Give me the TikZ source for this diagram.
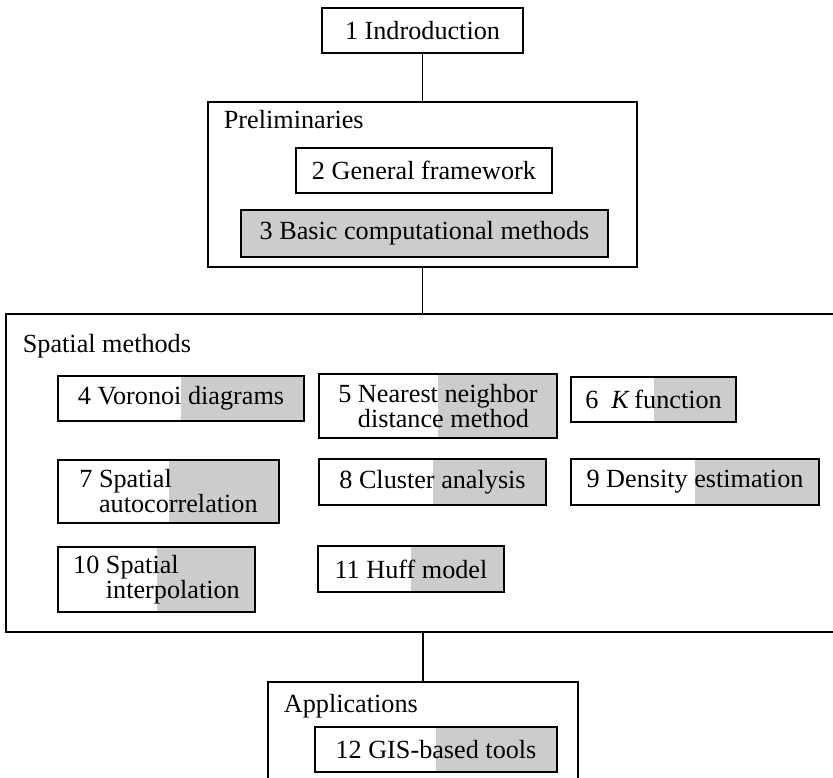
\documentclass[tikz,border=0pt]{standalone}
\usepackage{fontspec}
\setmainfont{Liberation Serif}
\usepackage{tikz}

\definecolor{boxgray}{HTML}{CCCCCC}

\begin{document}
\begin{tikzpicture}[x=0.5pt,y=-0.5pt,
    every node/.style={font=\fontsize{13.1pt}{12.5pt}\selectfont,inner sep=0,line width=0.9pt},
    groupbox/.style={draw,fill=white},
    grouplabel/.style={anchor=base west},
    plainbox/.style={draw,fill=white,align=left},
    graybox/.style={draw,fill=boxgray,align=left},
    halfbox/.style={draw,fill=white,align=left,
      path picture={\fill[boxgray] (path picture bounding box.south) rectangle (path picture bounding box.north east);}}]
        \useasboundingbox (0,0) rectangle (833,777);
        % containers
        \node[groupbox,minimum width=214.5pt,minimum height=82.5pt] (prelim) at (422.5,184.5) {};
        \node[groupbox,minimum width=422pt,minimum height=159pt] (spatial) at (428,473) {};
        \node[groupbox,minimum width=155pt,minimum height=59pt] (apps) at (423,741) {};
        \node[grouplabel] (prelimlabel) at (223,128) {Preliminaries};
        \node[grouplabel] (spatiallabel) at (22,352) {Spatial methods};
        \node[grouplabel] (appslabel) at (283,712) {Applications};
        % chapters
        \node[plainbox,minimum width=100.5pt,minimum height=22.5pt] (intro) at (422.5,30.5) {1 Indroduction};
        \node[plainbox,minimum width=128pt,minimum height=22.5pt] (framework) at (424,170.5) {2 General framework};
        \node[graybox,minimum width=183.5pt,minimum height=23.5pt] (basic) at (424.5,233.5) {3 Basic computational methods};
        \node[halfbox,minimum width=123pt,minimum height=22.5pt] (voronoi) at (181,398.5) {4 Voronoi diagrams};
        \node[halfbox,minimum width=119pt,minimum height=32pt] (nearest) at (438,406) {5 Nearest neighbor\\\phantom{5 }distance method};
        \node[halfbox,minimum width=82.5pt,minimum height=22.5pt] (kfunc) at (653.5,399.5) {6\enspace\textit{K}\,function};
        \node[halfbox,minimum width=110.5pt,minimum height=31.5pt] (autocorr) at (168.5,491.5) {7 Spatial\\\phantom{7 }autocorrelation};
        \node[halfbox,minimum width=113.5pt,minimum height=23pt] (cluster) at (432.5,482) {8 Cluster analysis};
        \node[halfbox,minimum width=124pt,minimum height=23pt] (density) at (695,482) {9 Density estimation};
        \node[halfbox,minimum width=98.5pt,minimum height=32.5pt] (interp) at (156.5,579.5) {10 Spatial\\\phantom{10 }interpolation};
        \node[halfbox,minimum width=93pt,minimum height=23pt] (huff) at (411,569) {11 Huff model};
        \node[halfbox,minimum width=121pt,minimum height=22.5pt] (gis) at (436,749.5) {12 GIS-based tools};
        % links
        \draw[line width=0.9pt] (intro.south) -- (prelim.north) (prelim.south) -- (prelim.south |- spatial.north) (apps.north |- spatial.south) -- (apps.north);
      \end{tikzpicture}
\end{document}
